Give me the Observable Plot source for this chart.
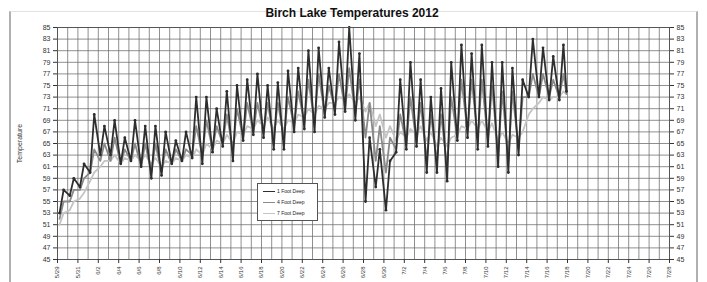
<!DOCTYPE html>
<html><head><meta charset="utf-8">
<script src="https://cdn.jsdelivr.net/npm/d3@7"></script>
<script src="https://cdn.jsdelivr.net/npm/@observablehq/plot@0.6"></script>
<style>
body{margin:0;background:#fff;font-family:"Liberation Sans",Arial,sans-serif;}
#wrap{position:relative;width:707px;height:282px;overflow:hidden;}
#frame{position:absolute;left:9px;top:11px;width:685px;height:280px;border-left:2px solid #b0b0b0;border-right:2px solid #b0b0b0;border-top:1px solid #e2e2e2;}
#title{position:absolute;left:0;top:6px;width:704px;text-align:center;font-weight:bold;font-size:12px;color:#111;}
#chart{position:absolute;left:0;top:20px;}
#legend{position:absolute;left:257px;top:183px;width:59px;height:36px;border:1px solid #555;background:#fff;font-size:5px;color:#222;}
#legend .row{position:absolute;left:5px;height:8px;line-height:8px;white-space:nowrap;}
#legend .sw{display:inline-block;width:12px;height:0;vertical-align:middle;margin-right:2px;}
#chart svg g[aria-label="x-axis tick label"] text{font-size:6px;}
</style></head>
<body>
<div id="wrap">
<div id="frame"></div>
<div id="title">Birch Lake Temperatures 2012</div>
<div id="chart"></div>
<div id="legend"></div>
</div>
<script>
// x-axis tick labels (every 2 days)
const dateLabels = ["5/29","5/31","6/2","6/4","6/6","6/8","6/10","6/12","6/14","6/16","6/18","6/20","6/22","6/24","6/26","6/28","6/30","7/2","7/4","7/6","7/8","7/10","7/12","7/14","7/16","7/18","7/20","7/22","7/24","7/26","7/28"];
const yTicks = [45,47,49,51,53,55,57,59,61,63,65,67,69,71,73,75,77,79,81,83,85];
const seriesNames = ["1 Foot Deep","4 Foot Deep","7 Foot Deep"];

// daily minimum / maximum readings (°F), day 0..49
const min1 = [53,56,57.5,60,63,63,61.5,62,61,59,59.5,61.5,62,62.5,61.5,63.5,64.5,62,65.5,66.5,66,64,64,67,67.5,67,69.5,70,70.5,69,55,57.5,53.5,63.5,64,64.5,60,60,58.5,65.5,66,64,64.5,61,60,63,73,73,72.5,72.5];
const max1 = [57,59,61.5,70,68,69,66,69,68,68,67,65.5,67,73,73,71,74,75,76,77,75,75.5,77.5,78,81,81.5,78,82.5,85,80.5,66,64,62,76,79,76,73,74.5,79,82,80.5,82,79,79,78,76,83,81.5,80,82];
const min4 = [52,55,57,60,62,62,61.5,62,61,60,60,61.5,62,63,63,64,65,64,66,67,67,66,66,68,68.5,68.5,70,71,71,70,66,62,60,64,65,65,62,62,61,66,67,66,65.5,63,62,64,73,73,73,73];
const max4 = [55,57,59,64,65,66,64,65,65,65,64,64,64,68,69,68,70,71,72,72,72,72,73,74,76,77,75,77,78,76,72,68,66,70,73,72,70,70,73,76,76,76,75,74,74,73,77,77,76,77];
const min7 = [51,53.5,55.5,58.5,61,62,61.5,62,62,61.5,61,61.5,62,62.5,63,64,65,65,66.5,67.5,68,67.5,67.5,68.5,69.5,70,71,72,72.5,72,70.5,68,66,65.5,66,66.5,65.5,64.5,64.5,66.5,67.5,67.5,67,65.5,65,66,70,72,72.5,73];
const max7 = [53,55,56.5,60,62,63,62.5,63,63,62.5,62,62.5,63,64,65,65.5,66.5,67,68,69,69.5,69,69,70,71,71.5,72,73,73.5,73,72,70,68,67,67.5,68,67,66,66,68,69,69,68.5,67,66.5,67,71,73,73,74];
const lastReading = [74, 73.5, 73.5];

const colors = ["#2e2e2e","#8a8a8a","#c4c4c4"];

function rows(mins, maxs, last){
  const out = [];
  mins.forEach((m,d)=>{ out.push({t:d+0.2, v:m}); out.push({t:d+0.6, v:maxs[d]}); });
  out.push({t:mins.length-0.1, v:last});
  return out;
}
const r1 = rows(min1,max1,lastReading[0]);
const r4 = rows(min4,max4,lastReading[1]);
const r7 = rows(min7,max7,lastReading[2]);

const labelDays = dateLabels.map((_,i)=>i*2);

const chart = Plot.plot({
  width:707, height:262,
  marginLeft:57, marginRight:38, marginTop:7, marginBottom:23,
  style:{fontFamily:"'Liberation Sans', Arial, sans-serif", fontSize:"7px", color:"#333", background:"transparent"},
  x:{domain:[0,60]},
  y:{domain:[45,85]},
  marks:[
    Plot.gridX(d3.range(0,61), {stroke:"#6a6a6a", strokeOpacity:0.75}),
    Plot.gridY(yTicks, {stroke:"#6a6a6a", strokeOpacity:0.75}),
    Plot.line(r7, {x:"t", y:"v", stroke:colors[2], strokeWidth:1.8}),
    Plot.line(r4, {x:"t", y:"v", stroke:colors[1], strokeWidth:1.8}),
    Plot.line(r1, {x:"t", y:"v", stroke:colors[0], strokeWidth:1.8}),
    Plot.dot(r1, {x:"t", y:"v", r:1.4, fill:colors[0]}),
    Plot.frame({stroke:"#555"}),
    Plot.axisX(labelDays, {tickFormat:d=>dateLabels[d/2], tickRotate:-90, tickSize:4, tickPadding:3, label:null}),
    Plot.axisY(yTicks, {anchor:"left", tickSize:4, tickPadding:3, label:"Temperature", labelAnchor:"center", labelArrow:"none", labelOffset:40}),
    Plot.axisY(yTicks, {anchor:"right", tickSize:4, tickPadding:3, label:null})
  ]
});
document.getElementById("chart").appendChild(chart);

const leg = document.getElementById("legend");
seriesNames.forEach((n,i)=>{
  const row = document.createElement("div");
  row.className="row";
  row.style.top = (3+i*11)+"px";
  row.innerHTML = `<span class="sw" style="border-top:1.5px solid ${colors[i]}"></span>${n}`;
  leg.appendChild(row);
});
</script>
</body></html>
